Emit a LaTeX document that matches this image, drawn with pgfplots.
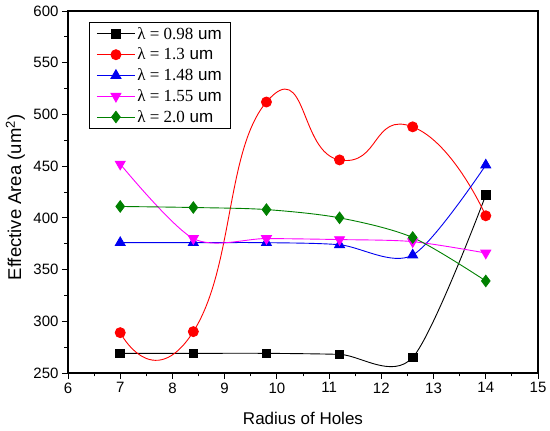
\documentclass[border=0pt]{standalone}
\usepackage{pgfplots}
\pgfplotsset{compat=1.18}
\usepackage{fontspec}
\setmainfont{Liberation Sans}
\newfontfamily\tnr{Liberation Serif}
\usetikzlibrary{calc}
\definecolor{cgreen}{RGB}{0,128,0}
\definecolor{cblue}{RGB}{0,0,240}
\definecolor{cmag}{RGB}{255,0,255}
\begin{document}
\begin{tikzpicture}
\begin{axis}[
  scale only axis,
  width=470pt, height=362pt,
  xmin=6, xmax=15, ymin=250, ymax=600,
  xtick={6,7,...,15}, ytick={250,300,...,600},
  minor x tick num=1, minor y tick num=1,
  xtick pos=bottom, ytick pos=left,
  tick align=outside,
  major tick length=6pt, minor tick length=3.5pt,
  every tick/.style={black, line width=0.9pt},
  axis line style={line width=1.1pt},
  /pgf/number format/assume math mode=true,
  ticklabel style={font=\fontsize{15}{17}\selectfont},
  xlabel={Radius of Holes},
  ylabel={Effective Area (um\textsuperscript{2})},
  xlabel style={font=\fontsize{17}{19}\selectfont, at={(axis description cs:0.5,-0.125)}, anchor=center},
  ylabel style={font=\fontsize{18.5}{21}\selectfont, at={(axis description cs:-0.112,0.485)}, anchor=center},
  legend style={at={(0.045,0.97)}, anchor=north west, draw=black, line width=0.7pt,
    font=\fontsize{17}{19}\selectfont, row sep=3.3pt, inner xsep=7pt, inner ysep=3pt},
  legend cell align=left,
  legend image code/.code={\draw[mark repeat=2,mark phase=2] plot coordinates {(0pt,0pt) (19pt,0pt) (38pt,0pt)};},
  every axis plot/.append style={line width=0.9pt, smooth},
]
\addplot[black, mark=square*, mark size=4.3pt, mark options={solid}] coordinates {
  (7,269) (8.4,269) (9.8,269) (11.2,268) (12.6,265) (14,422)};
\addlegendentry{{\tnr λ = 0.98} um}
\addplot[red, mark=*, mark size=5pt, tension=1] coordinates {
  (7,289) (8.4,290) (9.8,512) (11.2,456) (12.6,488) (14,402)};
\addlegendentry{{\tnr λ = 1.3} um}
\addplot[cblue, mark=triangle*, mark size=5.7pt] coordinates {
  (7,376) (8.4,376) (9.8,376) (11.2,374) (12.6,364) (14,451)};
\addlegendentry{{\tnr λ = 1.48} um}
\addplot[cmag, mark=triangle*, mark size=5.7pt, mark options={rotate=180}] coordinates {
  (7,452) (8.4,380) (9.8,380) (11.2,379) (12.6,377) (14,366)};
\addlegendentry{{\tnr λ = 1.55} um}
\addplot[cgreen, mark=diamond*, mark size=5.7pt] coordinates {
  (7,411) (8.4,410) (9.8,408) (11.2,400) (12.6,381) (14,339)};
\addlegendentry{{\tnr λ = 2.0} um}
\end{axis}
\pgfresetboundingbox
\path ($(current axis.south west)+(-68pt,-58pt)$) rectangle ($(current axis.north east)+(12pt,11pt)$);
\end{tikzpicture}
\end{document}
